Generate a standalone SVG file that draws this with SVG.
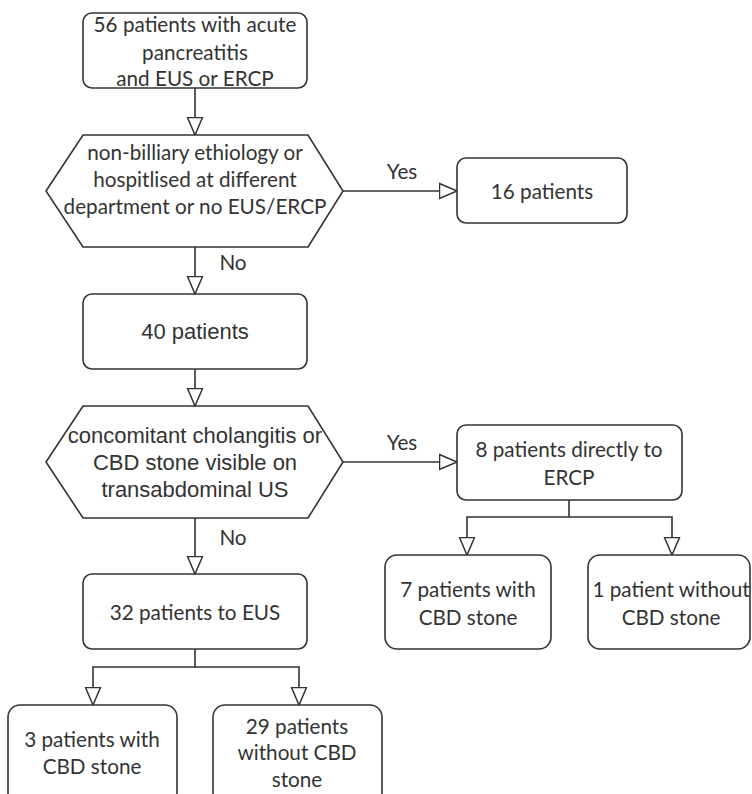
<svg xmlns="http://www.w3.org/2000/svg" width="752" height="794" viewBox="0 0 752 794">
<style>
.box{fill:#fff;stroke:#333;stroke-width:1.6}
.c{font-family:Lato,"Open Sans",sans-serif;font-size:20.7px;fill:#333;text-anchor:middle}
.a{font-family:"Liberation Sans",Arial,sans-serif;font-size:22px;fill:#333;text-anchor:middle}
.e{fill:none;stroke:#333;stroke-width:1.6}
</style>
<defs>
<marker id="ah" markerUnits="userSpaceOnUse" markerWidth="20" markerHeight="18" refX="17.5" refY="8" orient="auto" viewBox="-1 -1 20 18">
<path d="M0,0.5 L17.5,8 L0,15.5 Z" fill="#fff" stroke="#333" stroke-width="1.5"/>
</marker>
</defs>
<rect width="752" height="794" fill="#fff"/>
<g id="connectors">
<path class="e" d="M195,88 V135" marker-end="url(#ah)"/>
<path class="e" d="M195,247 V294" marker-end="url(#ah)"/>
<path class="e" d="M343,191 H457" marker-end="url(#ah)"/>
<path class="e" d="M195,369 V406" marker-end="url(#ah)"/>
<path class="e" d="M343,462 H457" marker-end="url(#ah)"/>
<path class="e" d="M195,518 V574" marker-end="url(#ah)"/>
<path class="e" d="M569,500 V517 H467 V555" marker-end="url(#ah)"/>
<path class="e" d="M569,517 H672 V555" marker-end="url(#ah)"/>
<path class="e" d="M195,649 V667 H93 V705" marker-end="url(#ah)"/>
<path class="e" d="M195,667 H299 V705" marker-end="url(#ah)"/>
<text class="c" x="233" y="270">No</text>
<text class="c" x="402" y="179">Yes</text>
<text class="c" x="402" y="450">Yes</text>
<text class="c" x="233" y="545">No</text>
</g>
<g id="n1">
<rect class="box" x="83" y="13" width="224" height="75" rx="9"/>
<text class="c" x="195" y="32">56 patients with acute</text>
<text class="c" x="195" y="60">pancreatitis</text>
<text class="c" x="195" y="86">and EUS or ERCP</text>
</g>
<g id="d1">
<polygon class="box" points="46,191 83,135 308,135 343,191 308,247 83,247"/>
<text class="c" x="195" y="160">non-billiary ethiology or</text>
<text class="c" x="195" y="187">hospitlised at different</text>
<text class="c" x="195" y="214">department or no EUS/ERCP</text>
</g>
<g id="n16">
<rect class="box" x="457" y="158" width="170" height="65" rx="9"/>
<text class="c" x="542" y="199">16 patients</text>
</g>
<g id="n40">
<rect class="box" x="83" y="294" width="224" height="75" rx="9"/>
<text class="a" x="195" y="339">40 patients</text>
</g>
<g id="d2">
<polygon class="box" points="46,462 83,406 308,406 343,462 308,518 83,518"/>
<text class="a" x="195" y="443">concomitant cholangitis or</text>
<text class="a" x="195" y="470">CBD stone visible on</text>
<text class="a" x="195" y="497">transabdominal US</text>
</g>
<g id="n8">
<rect class="box" x="457" y="425" width="225" height="75" rx="9"/>
<text class="c" x="569" y="457">8 patients directly to</text>
<text class="c" x="569" y="485">ERCP</text>
</g>
<g id="n7">
<rect class="box" x="385" y="555" width="166" height="94" rx="12"/>
<text class="c" x="468" y="597">7 patients with</text>
<text class="c" x="468" y="625">CBD stone</text>
</g>
<g id="n1p">
<rect class="box" x="588" y="555" width="162" height="94" rx="12"/>
<text class="c" x="671" y="597">1 patient without</text>
<text class="c" x="671" y="625">CBD stone</text>
</g>
<g id="n32">
<rect class="box" x="83" y="574" width="224" height="75" rx="9"/>
<text class="c" x="195" y="620">32 patients to EUS</text>
</g>
<g id="n3">
<rect class="box" x="8" y="705" width="169" height="100" rx="12"/>
<text class="c" x="92" y="747">3 patients with</text>
<text class="c" x="92" y="774">CBD stone</text>
</g>
<g id="n29">
<rect class="box" x="213" y="705" width="169" height="100" rx="12"/>
<text class="c" x="297" y="734">29 patients</text>
<text class="c" x="297" y="760">without CBD</text>
<text class="c" x="297" y="787">stone</text>
</g>
</svg>
